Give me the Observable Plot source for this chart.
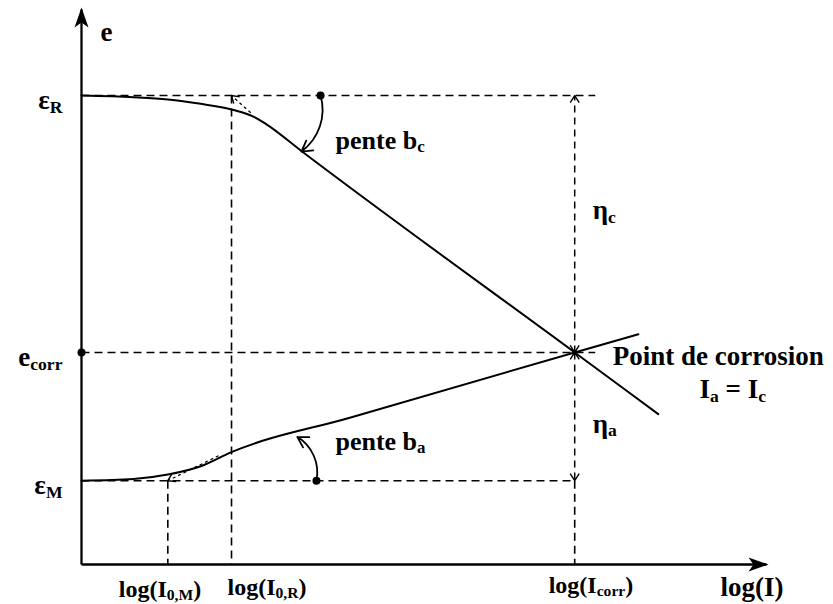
<!DOCTYPE html>
<html>
<head>
<meta charset="utf-8">
<script src="https://cdn.jsdelivr.net/npm/d3@7"></script>
<script src="https://cdn.jsdelivr.net/npm/@observablehq/plot@0.6"></script>
<style>
  body { margin: 0; background: #fff; }
</style>
</head>
<body>
<script>
// Characteristic currents (log scale) and potentials of the mixed-potential diagram
const logI0M = 1.26, logI0R = 2.19, logIcorr = 7.2;
const eR = 8.45, eCorr = 3.82, eM = 1.51;
const dashedReach = 7.5;

const xTicks = [logI0M, logI0R, logIcorr];
const xTickLabels = ["log(I_{0,M})", "log(I_{0,R})", "log(I_{corr})"];
const yTicks = [eR, eCorr, eM];
const yTickLabels = ["ε_{R}", "e_{corr}", "ε_{M}"];

// Cathodic branch (reduction of R): flat near εR, then Tafel slope b_c
const cathodicLogI = [0, 0.76, 1.26, 1.74, 2.22, 2.51, 2.69, 3.20, 7.20, 8.42];
const cathodicE    = [8.45, 8.42, 8.38, 8.30, 8.19, 8.07, 7.94, 7.46, 3.82, 2.71];

// Anodic branch (oxidation of M): flat near εM, then Tafel slope b_a
const anodicLogI = [0, 0.76, 1.26, 1.74, 2.18, 3.93, 7.20, 8.13];
const anodicE    = [1.51, 1.54, 1.62, 1.77, 2.02, 2.65, 3.82, 4.15];

// Dashed construction lines
const guides = [
  {x1: 0, y1: eR, x2: dashedReach, y2: eR},
  {x1: 0, y1: eCorr, x2: dashedReach, y2: eCorr},
  {x1: 0, y1: eM, x2: logIcorr, y2: eM},
  {x1: logI0R, y1: eR, x2: logI0R, y2: 0},
  {x1: logI0M, y1: eM, x2: logI0M, y2: 0},
  {x1: logIcorr, y1: eM, x2: logIcorr, y2: 0}
];

// Overpotentials η_c and η_a at the corrosion current
const overpotentials = [
  {x1: logIcorr, y1: eCorr, x2: logIcorr, y2: eR},
  {x1: logIcorr, y1: eCorr, x2: logIcorr, y2: eM}
];

// Tafel extrapolations back to the exchange currents
const tafelHints = [
  {x1: 2.47, y1: 8.14, x2: logI0R, y2: eR},
  {x1: 2.0, y1: 1.96, x2: logI0M, y2: eM}
];

// Coordinate axes
const axes = [
  {x1: 0, y1: 0, x2: 10, y2: 0},
  {x1: 0, y1: 0, x2: 0, y2: 10}
];

// Curved pointers for the slopes
const bcArrow = [{x1: 3.49, y1: eR, x2: 3.21, y2: 7.44}];
const baArrow = [{x1: 3.43, y1: eM, x2: 3.15, y2: 2.30}];

const markedX = [3.49, 0, 3.43];
const markedE = [eR, eCorr, eM];

const serif = "'Liberation Serif', 'Times New Roman', serif";

// Open chevron head, kept solid even on dashed links
function openHead(color) {
  return d3.create("svg:marker")
    .attr("viewBox", "-10 -6 12 12")
    .attr("markerUnits", "userSpaceOnUse")
    .attr("markerWidth", 12)
    .attr("markerHeight", 12)
    .attr("orient", "auto-start-reverse")
    .attr("fill", "none")
    .attr("stroke", color)
    .attr("stroke-width", 1.4)
    .attr("stroke-dasharray", "none")
    .call(m => m.append("path").attr("d", "M-7,-4.5L0,0L-7,4.5"))
    .node();
}

// Filled, notched head for the axes
function solidHead(color) {
  return d3.create("svg:marker")
    .attr("viewBox", "-22 -8 26 16")
    .attr("markerUnits", "userSpaceOnUse")
    .attr("markerWidth", 26)
    .attr("markerHeight", 16)
    .attr("orient", "auto")
    .attr("stroke", "none")
    .attr("fill", color)
    .call(m => m.append("path").attr("d", "M2,0L-18,-7L-13,0L-18,7Z"))
    .node();
}

const label = (str, x, y, opts) => Plot.text([str], {
  x, y, text: d => d,
  lineAnchor: "bottom",
  fontFamily: serif, fontWeight: "bold", fill: "black",
  ...opts
});

const linkXY = {x1: "x1", y1: "y1", x2: "x2", y2: "y2", stroke: "black"};

const plot = Plot.plot({
  width: 833,
  height: 604,
  marginLeft: 81,
  marginRight: 67,
  marginTop: 9,
  marginBottom: 40,
  x: {domain: [0, 10], axis: null, label: null},
  y: {domain: [0, 10], label: null},
  style: {background: "white", color: "black", fontFamily: serif},
  marks: [
    Plot.link(guides, {...linkXY, strokeWidth: 1.6, strokeDasharray: "8,5"}),
    Plot.link(overpotentials, {...linkXY, strokeWidth: 1.5, strokeDasharray: "7,5",
      markerStart: openHead, markerEnd: openHead}),
    Plot.link(tafelHints, {...linkXY, strokeWidth: 1.2, strokeDasharray: "3,3", markerEnd: openHead}),
    Plot.link(axes, {...linkXY, strokeWidth: 2.3, markerEnd: solidHead}),
    Plot.line(cathodicE, {x: cathodicLogI, y: cathodicE, curve: "monotone-x",
      stroke: "black", strokeWidth: 2}),
    Plot.line(anodicE, {x: anodicLogI, y: anodicE, curve: "monotone-x",
      stroke: "black", strokeWidth: 2}),
    Plot.arrow(bcArrow, {...linkXY, bend: 35, headLength: 10, strokeWidth: 1.8}),
    Plot.arrow(baArrow, {...linkXY, bend: -35, headLength: 10, strokeWidth: 1.8}),
    Plot.dot(markedE, {x: markedX, y: markedE, r: 4, fill: "black"}),
    Plot.dot([eCorr], {x: logIcorr, y: d => d, r: 2.5, fill: "black"}),
    Plot.axisY({
      ticks: yTicks,
      tickFormat: d => yTickLabels[yTicks.indexOf(d)],
      tickSize: 0, tickPadding: 19, label: null,
      fontSize: 27, fontFamily: serif, fontWeight: "bold", dy: 5
    }),
    label(xTickLabels[0], xTicks[0], 0, {dx: -49, dy: 32, textAnchor: "start", fontSize: 24}),
    label(xTickLabels[1], xTicks[1], 0, {dx: -4, dy: 30, textAnchor: "start", fontSize: 24}),
    label(xTickLabels[2], xTicks[2], 0, {dx: -26, dy: 28, textAnchor: "start", fontSize: 24}),
    label("e", 0, 10, {dx: 19, dy: 31, textAnchor: "start", fontSize: 27}),
    label("log(I)", 10, 0, {dx: -46, dy: 31, textAnchor: "start", fontSize: 27}),
    label("pente b_{c}", bcArrow[0].x1, bcArrow[0].y1, {dx: 15, dy: 53, textAnchor: "start", fontSize: 26}),
    label("pente b_{a}", baArrow[0].x1, baArrow[0].y1, {dx: 19, dy: -31, textAnchor: "start", fontSize: 26}),
    label("η_{c}", logIcorr, (eR + eCorr) / 2, {dx: 18, dy: -5, textAnchor: "start", fontSize: 27}),
    label("η_{a}", logIcorr, (eCorr + eM) / 2, {dx: 18, dy: 16, textAnchor: "start", fontSize: 27}),
    label("Point de corrosion", logIcorr, eCorr, {dx: 38, dy: 13, textAnchor: "start", fontSize: 27}),
    label("I_{a} = I_{c}", logIcorr, eCorr, {dx: 158, dy: 46, textAnchor: "middle", fontSize: 27})
  ]
});

document.body.appendChild(plot);

// Turn the _{...} markup of every label into lowered, smaller tspans
const svgNS = "http://www.w3.org/2000/svg";
d3.select(plot).selectAll("text").each(function () {
  const el = this;
  if (el.querySelector("tspan")) return;
  const s = el.textContent;
  if (!s.includes("_{")) return;
  const size = parseFloat(getComputedStyle(el).fontSize);
  const shift = +(size * 0.14).toFixed(1);
  el.textContent = "";
  let lowered = false;
  for (const part of s.split(/(_\{[^}]*\})/)) {
    if (!part) continue;
    const t = document.createElementNS(svgNS, "tspan");
    if (part.startsWith("_{")) {
      t.textContent = part.slice(2, -1);
      t.setAttribute("font-size", (size * 0.65).toFixed(1));
      if (!lowered) { t.setAttribute("dy", shift); lowered = true; }
    } else {
      t.textContent = part;
      if (lowered) { t.setAttribute("dy", -shift); lowered = false; }
    }
    el.appendChild(t);
  }
});
</script>
</body>
</html>
